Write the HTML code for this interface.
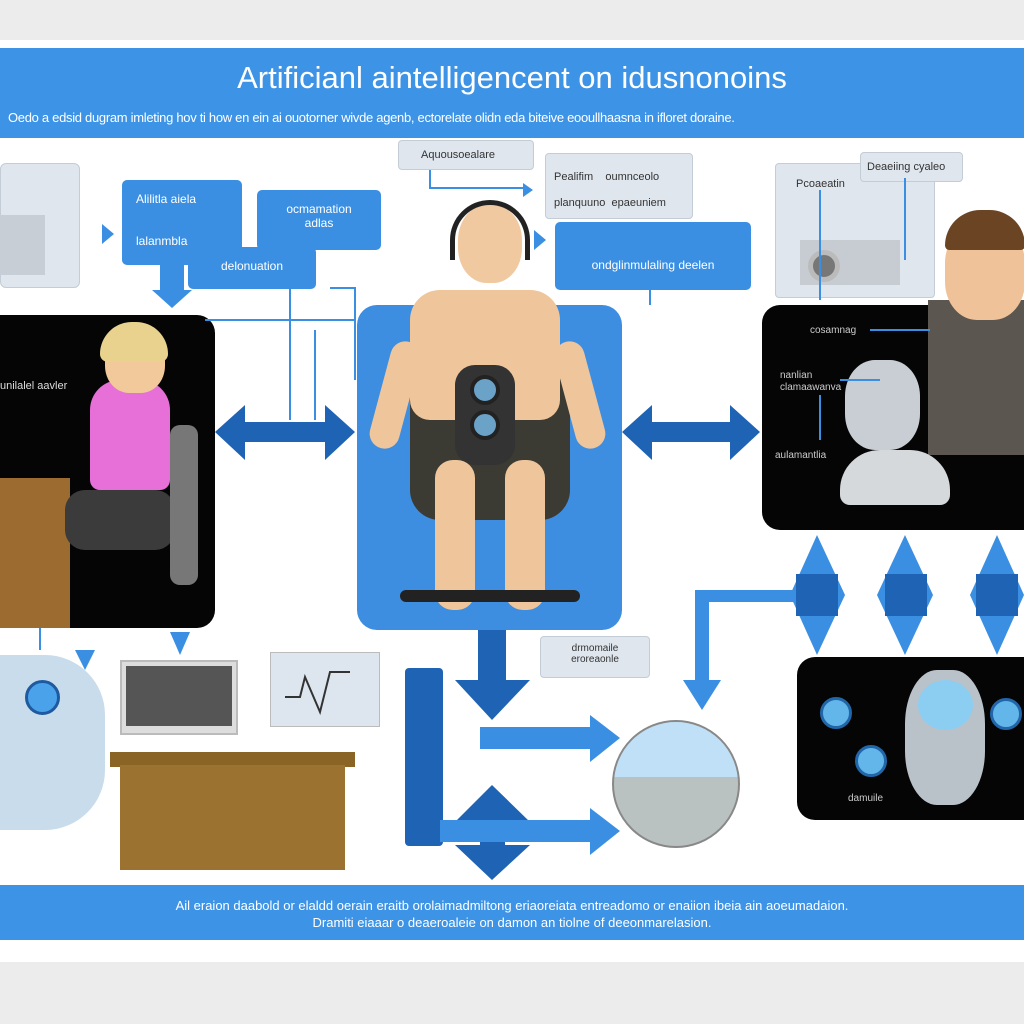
<!DOCTYPE html>
<html><head><meta charset="utf-8"><style>
*{margin:0;padding:0;box-sizing:border-box}
body{width:1024px;height:1024px;background:#ececec;position:relative;overflow:hidden;font-family:"Liberation Sans",sans-serif}
.a{position:absolute}
.blue{background:#3b8fe2;color:#fff;font-size:12px}
.gray{background:#dfe6ee;border:1px solid #c4ccd6;color:#333;font-size:11px}
.blk{background:#050505;border-radius:18px}
</style></head><body>
<div class="a" style="left:0;top:40px;width:1024px;height:922px;background:#fff"></div>
<div class="a" style="left:0;top:48px;width:1024px;height:90px;background:#3d93e6"></div>
<div class="a" style="left:0;top:60px;width:1024px;text-align:center;color:#fff;font-size:31px">Artificianl aintelligencent on idusnonoins</div>
<div class="a" style="left:8px;top:110px;width:1010px;color:#fff;font-size:13px;white-space:nowrap;letter-spacing:-0.3px">Oedo a edsid dugram imleting hov ti how en ein ai ouotorner wivde agenb, ectorelate olidn eda biteive eooullhaasna in ifloret doraine.</div>

<div class="a gray" style="left:0;top:163px;width:80px;height:125px;border-radius:6px"></div>
<div class="a" style="left:0;top:215px;width:45px;height:60px;background:#c8ced6"></div>
<div class="a blue" style="left:122px;top:180px;width:120px;height:85px;border-radius:5px;padding:12px 14px">Alilitla aiela<br><br><br>lalanmbla</div>
<div class="a blue" style="left:257px;top:190px;width:124px;height:60px;border-radius:5px;text-align:center;padding-top:12px">ocmamation<br>adlas</div>
<div class="a blue" style="left:188px;top:247px;width:128px;height:42px;border-radius:5px;text-align:center;padding-top:12px">delonuation</div>
<div class="a" style="left:160px;top:265px;width:24px;height:28px;background:#3b8fe2"></div>
<div class="a" style="left:152px;top:290px;width:0;height:0;border-left:20px solid transparent;border-right:20px solid transparent;border-top:18px solid #3b8fe2"></div>
<div class="a" style="left:102px;top:224px;border-top:10px solid transparent;border-bottom:10px solid transparent;border-left:12px solid #3b8fe2"></div>

<div class="a gray" style="left:398px;top:140px;width:136px;height:30px;border-radius:4px;padding:8px 22px">Aquousoealare</div>
<div class="a gray" style="left:545px;top:153px;width:148px;height:66px;border-radius:4px;padding:10px 8px;line-height:26px">Pealifim &nbsp;&nbsp;&nbsp;oumnceolo<br>planquuno &nbsp;epaeuniem</div>
<div class="a blue" style="left:555px;top:222px;width:196px;height:68px;border-radius:5px;text-align:center;padding-top:36px">ondglinmulaling deelen</div>
<div class="a" style="left:534px;top:230px;border-top:10px solid transparent;border-bottom:10px solid transparent;border-left:12px solid #3b8fe2"></div>
<div class="a" style="left:523px;top:183px;border-top:7px solid transparent;border-bottom:7px solid transparent;border-left:10px solid #3b8fe2"></div>

<div class="a gray" style="left:775px;top:163px;width:160px;height:135px;border-radius:4px;padding:14px 20px">Pcoaeatin</div>
<div class="a gray" style="left:860px;top:152px;width:103px;height:30px;border-radius:4px;padding:8px 6px">Deaeiing cyaleo</div>
<div class="a" style="left:800px;top:240px;width:100px;height:45px;background:#c7ccd2"></div>
<div class="a" style="left:808px;top:250px;width:32px;height:32px;border-radius:50%;background:#777;border:5px solid #bbb"></div>

<div class="a blk" style="left:-20px;top:315px;width:235px;height:313px"></div>
<div class="a" style="left:0;top:380px;color:#ddd;font-size:11px">unilalel aavler</div>
<div class="a" style="left:0;top:478px;width:70px;height:150px;background:#9b6b2f"></div>
<div class="a" style="left:90px;top:380px;width:80px;height:110px;background:#e66fd8;border-radius:30px 30px 10px 10px"></div>
<div class="a" style="left:105px;top:325px;width:60px;height:68px;background:#f1c99a;border-radius:40%"></div>
<div class="a" style="left:100px;top:322px;width:68px;height:40px;background:#e8d28e;border-radius:40px 40px 10px 10px"></div>
<div class="a" style="left:65px;top:490px;width:110px;height:60px;background:#3b3b3b;border-radius:20px"></div>
<div class="a" style="left:170px;top:425px;width:28px;height:160px;background:#777;border-radius:10px"></div>

<div class="a" style="left:357px;top:305px;width:265px;height:325px;background:#3d8ee0;border-radius:20px"></div>
<div class="a" style="left:410px;top:350px;width:160px;height:170px;background:#3b3a33;border-radius:30px"></div>
<div class="a" style="left:458px;top:205px;width:64px;height:78px;background:#f0c9a0;border-radius:45%"></div>
<div class="a" style="left:450px;top:200px;width:80px;height:60px;border:5px solid #222;border-bottom:none;border-radius:40px 40px 0 0"></div>
<div class="a" style="left:410px;top:290px;width:150px;height:130px;background:#efc59b;border-radius:30px 30px 20px 20px"></div>
<div class="a" style="left:455px;top:365px;width:60px;height:100px;background:#333;border-radius:20px"></div>
<div class="a" style="left:470px;top:375px;width:30px;height:30px;border-radius:50%;background:#6aa3c7;border:4px solid #222"></div>
<div class="a" style="left:470px;top:410px;width:30px;height:30px;border-radius:50%;background:#6aa3c7;border:4px solid #222"></div>
<div class="a" style="left:380px;top:340px;width:30px;height:110px;background:#efc59b;border-radius:15px;transform:rotate(15deg)"></div>
<div class="a" style="left:565px;top:340px;width:30px;height:110px;background:#efc59b;border-radius:15px;transform:rotate(-15deg)"></div>
<div class="a" style="left:435px;top:460px;width:40px;height:150px;background:#efc59b;border-radius:18px"></div>
<div class="a" style="left:505px;top:460px;width:40px;height:150px;background:#efc59b;border-radius:18px"></div>
<div class="a" style="left:400px;top:590px;width:180px;height:12px;background:#222;border-radius:6px"></div>

<div class="a blk" style="left:762px;top:305px;width:290px;height:225px"></div>
<div class="a" style="left:928px;top:300px;width:100px;height:155px;background:#5b5750"></div>
<div class="a" style="left:945px;top:225px;width:80px;height:95px;background:#f0c29a;border-radius:40%"></div>
<div class="a" style="left:945px;top:210px;width:80px;height:40px;background:#6b4424;border-radius:40px 40px 5px 5px"></div>
<div class="a" style="left:845px;top:360px;width:75px;height:90px;background:#c8ced3;border-radius:40%"></div>
<div class="a" style="left:840px;top:450px;width:110px;height:55px;background:#d5d9dc;border-radius:40px 40px 10px 10px"></div>
<div class="a" style="left:810px;top:325px;color:#ccc;font-size:10px">cosamnag</div>
<div class="a" style="left:780px;top:370px;color:#ccc;font-size:10px;line-height:12px">nanlian<br>clamaawanva</div>
<div class="a" style="left:775px;top:450px;color:#ccc;font-size:10px">aulamantlia</div>

<div class="a blk" style="left:797px;top:657px;width:250px;height:163px"></div>
<div class="a" style="left:905px;top:670px;width:80px;height:135px;background:#b9c2c9;border-radius:40%"></div>
<div class="a" style="left:918px;top:680px;width:55px;height:50px;background:#8ccdf2;border-radius:50%"></div>
<div class="a" style="left:820px;top:697px;width:32px;height:32px;border-radius:50%;background:#62b6ea;border:3px solid #2266aa"></div>
<div class="a" style="left:855px;top:745px;width:32px;height:32px;border-radius:50%;background:#62b6ea;border:3px solid #2266aa"></div>
<div class="a" style="left:990px;top:698px;width:32px;height:32px;border-radius:50%;background:#62b6ea;border:3px solid #2266aa"></div>
<div class="a" style="left:848px;top:793px;color:#ccc;font-size:10px">damuile</div>

<div class="a" style="left:0;top:655px;width:105px;height:175px;background:#c8dcec;border-radius:0 60px 60px 0"></div>
<div class="a" style="left:25px;top:680px;width:35px;height:35px;border-radius:50%;background:#4aa3ea;border:3px solid #1e5aa0"></div>
<div class="a" style="left:120px;top:660px;width:118px;height:75px;background:#ddd;border:2px solid #bbb"></div>
<div class="a" style="left:126px;top:666px;width:106px;height:60px;background:#555"></div>
<div class="a" style="left:110px;top:752px;width:245px;height:15px;background:#8a6425"></div>
<div class="a" style="left:120px;top:765px;width:225px;height:105px;background:#9b7230"></div>
<div class="a" style="left:270px;top:652px;width:110px;height:75px;background:#dde6ee;border:1px solid #bbb"></div>
<svg class="a" style="left:270px;top:652px" width="110" height="75"><polyline points="15,45 30,45 35,25 50,60 60,20 80,20" fill="none" stroke="#333" stroke-width="2"/></svg>

<div class="a gray" style="left:540px;top:636px;width:110px;height:42px;border-radius:4px;text-align:center;padding-top:6px;font-size:10px">drmomaile<br>eroreaonle</div>
<div class="a" style="left:612px;top:720px;width:128px;height:128px;border-radius:50%;background:#b9c2c0;border:2px solid #888;overflow:hidden"><div style="height:55px;background:#bfe0f6"></div></div>

<svg class="a" style="left:0;top:0" width="1024" height="1024">
 <g fill="#3b8fe2">
  <polygon points="817,535 845,595 817,655 790,595"/>
  <polygon points="905,535 933,595 905,655 877,595"/>
  <polygon points="997,535 1024,595 997,655 970,595"/>
 </g>
 <g fill="#1f63b4">
  <polygon points="215,432 245,405 245,422 325,422 325,405 355,432 325,460 325,442 245,442 245,460"/>
  <polygon points="622,432 652,405 652,422 730,422 730,405 760,432 730,460 730,442 652,442 652,460"/>
  <rect x="478" y="630" width="28" height="50"/><polygon points="455,680 530,680 492,720"/>
  <polygon points="492,785 530,822 505,822 505,845 530,845 492,880 455,845 480,845 480,822 455,822"/>
  <rect x="405" y="668" width="38" height="178" rx="4"/>
  <rect x="796" y="574" width="42" height="42"/><rect x="885" y="574" width="42" height="42"/><rect x="976" y="574" width="42" height="42"/>
 </g>
 <g fill="#3b8fe2">
  <rect x="480" y="727" width="110" height="22"/><polygon points="590,715 620,738 590,762"/>
  <rect x="440" y="820" width="150" height="22"/><polygon points="590,808 620,831 590,855"/>
  <rect x="695" y="590" width="100" height="12"/><rect x="695" y="590" width="14" height="90"/><polygon points="683,680 721,680 702,710"/>
  <polygon points="170,632 190,632 180,655"/><polygon points="75,650 95,650 85,670"/>
 </g>
 <g stroke="#3b8fe2" stroke-width="2" fill="none">
  <path d="M430 170 V188 H525"/><path d="M205 320 H355"/><path d="M290 250 V420"/><path d="M315 330 V420"/>
  <path d="M330 288 H355 V380"/><path d="M650 290 V305"/><path d="M820 190 V300"/><path d="M905 178 V260"/>
  <path d="M40 628 V650"/><path d="M870 330 H930"/><path d="M840 380 H880"/><path d="M820 395 V440"/>
 </g>
</svg>

<div class="a" style="left:0;top:885px;width:1024px;height:55px;background:#3d93e6"></div>
<div class="a" style="left:0;top:897px;width:1024px;text-align:center;color:#fff;font-size:13px;line-height:17px">Ail eraion daabold or elaldd oerain eraitb orolaimadmiltong eriaoreiata entreadomo or enaiion ibeia ain aoeumadaion.<br>Dramiti eiaaar o deaeroaleie on damon an tiolne of deeonmarelasion.</div>
</body></html>
